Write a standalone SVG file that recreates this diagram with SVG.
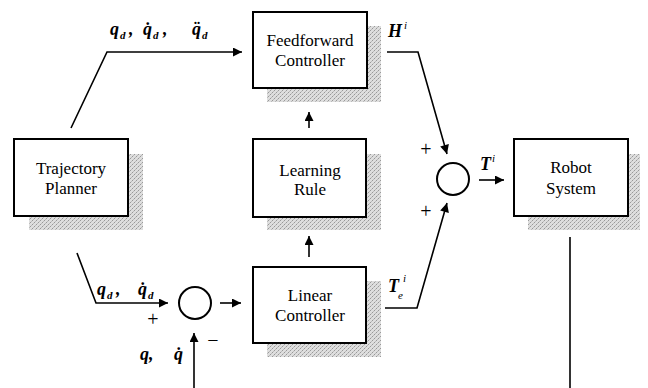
<svg xmlns="http://www.w3.org/2000/svg" width="648" height="388" viewBox="0 0 648 388">
<defs>
<pattern id="dither" width="4" height="4" patternUnits="userSpaceOnUse">
<rect width="4" height="4" fill="#dedede"/>
<rect x="0" y="0" width="1" height="1" fill="#999"/>
<rect x="2" y="2" width="1" height="1" fill="#999"/>
<rect x="3" y="1" width="1" height="1" fill="#bbb"/>
<rect x="1" y="3" width="1" height="1" fill="#bbb"/>
</pattern>
<marker id="ah" viewBox="0 0 10 10" refX="10" refY="5" markerWidth="10" markerHeight="9" markerUnits="userSpaceOnUse" orient="auto">
<path d="M0,0 L10,5 L0,10 z" fill="#000"/>
</marker>
</defs>
<style>
.box{fill:#fff;stroke:#000;stroke-width:2}
.sh{fill:url(#dither)}
text{font-family:"Liberation Serif","DejaVu Serif","Times New Roman",serif;fill:#000}
.bt{font-size:17px;text-anchor:middle}
.m{font-size:18px;font-style:italic;font-weight:bold}
.s{font-size:11px}
.sg{font-size:20px;text-anchor:middle}
.ln{fill:none;stroke:#000;stroke-width:1.6}
.ar{marker-end:url(#ah)}
</style>
<rect width="648" height="388" fill="#fff"/>

<g id="trajectory-planner">
<rect class="sh" x="29" y="154" width="114" height="76"/>
<rect class="box" x="14" y="139" width="114" height="77"/>
<text class="bt" x="71" y="174">Trajectory</text>
<text class="bt" x="71" y="194">Planner</text>
</g>

<g id="feedforward-controller">
<rect class="sh" x="267" y="26" width="114" height="76"/>
<rect class="box" x="253" y="12" width="114" height="76"/>
<text class="bt" x="310" y="46">Feedforward</text>
<text class="bt" x="310" y="66">Controller</text>
</g>

<g id="learning-rule">
<rect class="sh" x="267" y="154" width="114" height="76"/>
<rect class="box" x="253" y="139" width="113" height="78"/>
<text class="bt" x="310" y="176">Learning</text>
<text class="bt" x="310" y="195">Rule</text>
</g>

<g id="linear-controller">
<rect class="sh" x="267" y="281" width="114" height="76"/>
<rect class="box" x="253" y="267" width="113" height="76"/>
<text class="bt" x="310" y="301">Linear</text>
<text class="bt" x="310" y="321">Controller</text>
</g>

<g id="robot-system">
<rect class="sh" x="528" y="154" width="112" height="76"/>
<rect class="box" x="514" y="139" width="114" height="77"/>
<text class="bt" x="571" y="173">Robot</text>
<text class="bt" x="571" y="194">System</text>
</g>

<g id="sum-top">
<circle cx="453" cy="179" r="16" fill="#fff" stroke="#000" stroke-width="2"/>
</g>

<g id="sum-bottom">
<circle cx="195" cy="303" r="16" fill="#fff" stroke="#000" stroke-width="2"/>
</g>

<g id="connectors">
<polyline class="ln ar" points="71,128 107,52 242,52"/>
<polyline class="ln ar" points="387,52 418,52 447,154"/>
<polyline class="ln ar" points="385,308 417,308 447,203"/>
<line class="ln ar" x1="479" y1="180" x2="504" y2="180"/>
<polyline class="ln ar" points="77,253 96,303 168,303"/>
<line class="ln ar" x1="220" y1="303" x2="241" y2="303"/>
<line class="ln ar" x1="194" y1="388" x2="194" y2="333"/>
<line class="ln ar" x1="309" y1="257" x2="309" y2="236"/>
<line class="ln ar" x1="309" y1="128" x2="309" y2="112"/>
<line class="ln" x1="570" y1="237" x2="570" y2="388"/>
</g>

<g id="labels">
<text class="m" x="110" y="35">q</text>
<text class="m s" x="120" y="39">d</text>
<text class="m" x="129" y="35">,</text>
<text class="m" x="143" y="35">q̇</text>
<text class="m s" x="153" y="39">d</text>
<text class="m" x="163" y="35">,</text>
<text class="m" x="192" y="35">q̈</text>
<text class="m s" x="202" y="39">d</text>
<text class="m" x="388" y="37">H</text>
<text class="s" x="404" y="29" font-style="italic">i</text>
<text class="m" x="480" y="170">T</text>
<text class="s" x="492" y="162" font-style="italic">i</text>
<text class="m" x="388" y="292">T</text>
<text class="s" x="398" y="299" font-style="italic">e</text>
<text class="s" x="403" y="282" font-style="italic">i</text>
<text class="m" x="97" y="295">q</text>
<text class="m s" x="107" y="299">d</text>
<text class="m" x="116" y="295">,</text>
<text class="m" x="138" y="295">q̇</text>
<text class="m s" x="148" y="299">d</text>
<text class="m" x="140" y="360">q,</text>
<text class="m" x="174" y="360">q̇</text>
<text class="sg" x="426" y="156">+</text>
<text class="sg" x="426" y="218">+</text>
<text class="sg" x="153" y="326">+</text>
<text class="sg" x="213" y="347">−</text>
</g>
</svg>
